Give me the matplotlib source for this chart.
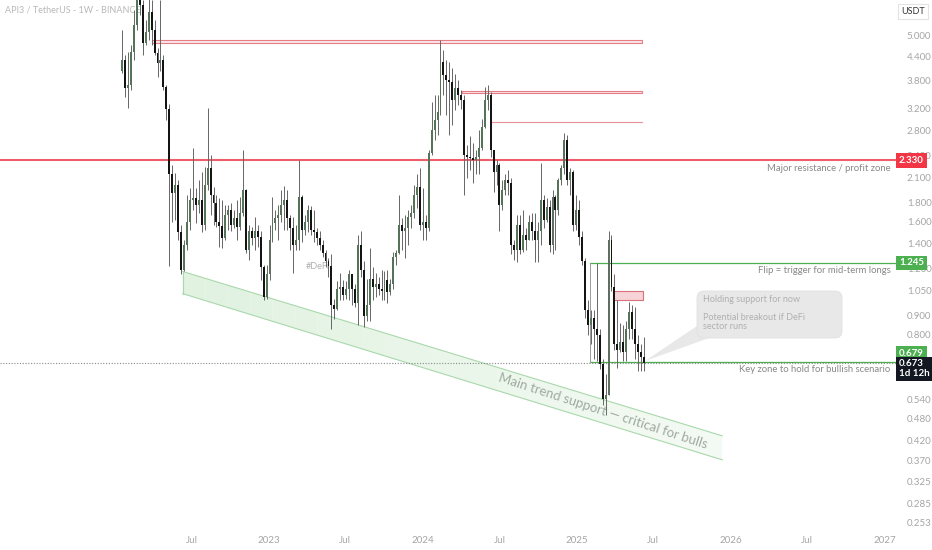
import numpy as np
import pandas as pd
import matplotlib
matplotlib.use('Agg')
import matplotlib.pyplot as plt
import matplotlib.dates as mdates
from matplotlib.patches import Polygon, Rectangle, FancyBboxPatch
from matplotlib.ticker import NullLocator

plt.rcParams['font.family'] = ['Lato', 'DejaVu Sans']

# weekly candles, API3/USDT
first_week = '2022-01-17'
first_open = 4.03
closes = [
    4.31, 3.63, 3.70, 4.53, 5.35, 6.63, 6.04, 4.79, 5.12, 5.79,
    5.19, 4.50, 4.24, 4.31, 3.66, 3.20, 2.14, 1.91, 2.01, 1.50,
    1.19, 1.39, 1.60, 1.83, 1.85, 1.77, 1.83, 1.57, 2.01, 2.22,
    1.89, 1.80, 1.60, 1.56, 1.45, 1.67, 1.72, 1.57, 1.64, 1.55,
    1.69, 1.94, 1.35, 1.51, 1.45, 1.51, 1.46, 1.21, 1.01, 1.16,
    1.43, 1.59, 1.64, 1.67, 1.77, 1.83, 1.64, 1.54, 1.39, 1.43,
    1.86, 1.52, 1.60, 1.72, 1.52, 1.50, 1.45, 1.39, 1.32, 1.26,
    1.22, 0.96, 0.94, 1.06, 1.07, 1.02, 1.06, 1.16, 1.06, 0.97,
    1.39, 1.19, 0.90, 0.96, 1.13, 1.07, 1.09, 1.06, 1.05, 1.12,
    1.04, 1.09, 1.29, 1.32, 1.57, 1.51, 1.54, 1.65, 1.69, 1.89,
    1.98, 1.57, 1.60, 1.54, 2.44, 2.81, 2.99, 3.14, 4.26, 3.94,
    3.82, 3.78, 3.38, 3.63, 3.48, 3.38, 2.41, 2.38, 2.37, 2.34,
    2.38, 2.52, 2.86, 3.38, 3.48, 2.49, 2.17, 2.27, 1.77, 1.94,
    2.07, 2.03, 1.39, 1.35, 1.57, 1.35, 1.48, 1.43, 1.60, 1.51,
    1.43, 1.51, 1.83, 1.62, 1.75, 1.39, 1.86, 1.72, 2.07, 2.22,
    2.64, 2.07, 2.17, 1.57, 1.72, 1.46, 1.26, 0.93, 0.85, 0.89,
    0.83, 0.80, 0.67, 0.54, 0.555, 1.43, 1.07, 0.755, 0.73, 0.765,
    0.72, 0.83, 0.92, 0.83, 0.755, 0.72, 0.70, 0.673]
highs = [
    5.19, 4.45, 4.53, 4.73, 5.86, 7.97, 8.47, 6.23, 5.51, 6.43,
    6.23, 5.51, 4.64, 6.23, 4.45, 3.70, 3.30, 2.27, 2.16, 2.07,
    1.57, 1.43, 1.89, 1.97, 2.52, 1.97, 2.07, 2.17, 2.24, 3.21,
    2.41, 1.98, 1.89, 1.85, 1.83, 1.77, 1.77, 1.80, 1.72, 1.83,
    1.86, 2.49, 1.96, 1.57, 1.55, 1.65, 1.57, 1.51, 1.23, 1.23,
    1.57, 1.86, 1.72, 1.77, 1.94, 1.99, 1.94, 1.67, 1.65, 1.57,
    2.34, 1.89, 1.67, 1.77, 1.76, 1.72, 1.54, 1.51, 1.43, 1.35,
    1.28, 1.31, 1.00, 1.11, 1.17, 1.12, 1.11, 1.19, 1.15, 1.09,
    1.48, 1.51, 1.26, 1.13, 1.36, 1.21, 1.17, 1.14, 1.19, 1.18,
    1.19, 1.13, 1.33, 1.35, 1.89, 1.64, 1.67, 1.72, 1.77, 2.01,
    2.14, 2.22, 1.97, 1.67, 2.49, 3.34, 3.48, 3.48, 4.88, 4.58,
    4.31, 4.26, 4.10, 3.97, 3.82, 3.59, 3.48, 2.56, 2.71, 2.60,
    2.49, 2.81, 3.01, 3.66, 3.70, 3.55, 2.49, 2.34, 2.30, 2.07,
    2.14, 2.20, 2.09, 1.43, 1.67, 1.67, 1.72, 1.54, 1.67, 1.69,
    1.69, 1.60, 2.30, 1.89, 1.85, 1.83, 1.94, 1.89, 2.09, 2.27,
    2.76, 2.73, 2.22, 2.20, 1.89, 1.83, 1.51, 1.28, 0.99, 0.93,
    0.93, 1.245, 0.83, 0.69, 0.63, 1.51, 1.48, 1.16, 0.99, 0.86,
    0.85, 0.87, 0.98, 0.96, 0.95, 0.80, 0.755, 0.79]
lows = [
    3.98, 3.44, 3.21, 3.59, 4.31, 5.19, 5.69, 4.45, 4.73, 4.88,
    4.73, 4.45, 3.89, 4.03, 3.59, 2.99, 1.22, 1.60, 1.62, 1.43,
    1.16, 1.18, 1.35, 1.52, 1.72, 1.59, 1.69, 1.50, 1.52, 1.94,
    1.67, 1.57, 1.55, 1.37, 1.36, 1.43, 1.52, 1.51, 1.54, 1.43,
    1.52, 1.66, 1.32, 1.27, 1.39, 1.35, 1.37, 1.12, 0.99, 1.00,
    1.12, 1.41, 1.52, 1.43, 1.60, 1.52, 1.52, 1.35, 1.17, 1.35,
    1.35, 1.41, 1.48, 1.50, 1.48, 1.41, 1.39, 1.35, 1.29, 1.21,
    1.14, 0.83, 0.88, 0.93, 0.99, 0.99, 1.00, 0.99, 0.96, 0.95,
    0.85, 1.14, 0.84, 0.87, 0.87, 0.99, 1.01, 1.02, 0.99, 0.99,
    0.97, 1.02, 1.06, 1.23, 1.31, 1.35, 1.28, 1.39, 1.54, 1.64,
    1.74, 1.52, 1.43, 1.43, 1.51, 2.41, 2.64, 2.73, 3.08, 3.48,
    3.08, 2.73, 2.90, 3.18, 3.28, 3.20, 1.89, 2.09, 2.20, 2.03,
    2.14, 2.14, 2.49, 2.85, 3.18, 2.38, 1.92, 2.01, 1.51, 1.72,
    1.89, 1.89, 1.31, 1.27, 1.25, 1.31, 1.33, 1.35, 1.43, 1.43,
    1.25, 1.25, 1.39, 1.54, 1.60, 1.33, 1.31, 1.35, 1.67, 2.01,
    2.14, 2.01, 1.89, 1.51, 1.52, 1.39, 1.23, 0.89, 0.80, 0.755,
    0.69, 0.68, 0.65, 0.52, 0.49, 0.57, 1.05, 0.73, 0.655, 0.72,
    0.68, 0.68, 0.78, 0.78, 0.69, 0.64, 0.64, 0.64]

price_ticks = [5.0, 4.4, 3.8, 3.2, 2.8, 2.4, 2.1, 1.8, 1.6, 1.4, 1.2, 1.05,
               0.9, 0.8, 0.62, 0.54, 0.48, 0.42, 0.37, 0.325, 0.285, 0.253]
time_ticks = ['2022-07-01', '2023-01-01', '2023-07-01', '2024-01-01', '2024-07-01',
              '2025-01-01', '2025-07-01', '2026-01-01', '2026-07-01', '2027-01-01']
time_labels = ['Jul', '2023', 'Jul', '2024', 'Jul', '2025', 'Jul', '2026', 'Jul', '2027']

# drawings
last_price = 0.673
major_res = 2.330
flip_level = 1.245
key_level = 0.679
zones_start = ['2022-03-29', '2024-04-03']
zones_low = [4.80, 3.53]
zones_high = [4.88, 3.575]
thin_res = 2.95
thin_res_start = '2024-06-08'
zones_end = '2025-06-04'
range_start = '2025-02-01'
small_box = ['2025-03-28', '2025-06-07']
small_box_prices = [0.99, 1.05]
chan_dates = ['2022-06-10', '2025-12-12']
chan_top = [1.18, 0.431]
chan_bot = [1.03, 0.372]

W, H = 932, 550
fig = plt.figure(figsize=(W / 100, H / 100), dpi=100)
ax = fig.add_axes([0, 22 / H, 897 / W, 528 / H])
ax.set_yscale('log')
ax.set_ylim(0.245, 6.23)
ax.set_xlim(mdates.date2num(pd.Timestamp('2021-04-02')), mdates.date2num(pd.Timestamp('2027-01-31')))

d = lambda s: mdates.date2num(pd.Timestamp(s))

# candles
dates = pd.date_range(first_week, periods=len(closes), freq='7D')
x = mdates.date2num(dates)
c = np.array(closes)
o = np.r_[first_open, c[:-1]]
hi = np.maximum(np.array(highs), np.maximum(o, c))
lo = np.minimum(np.array(lows), np.minimum(o, c))
up = c >= o
ax.vlines(x, lo, hi, color='#666666', lw=0.7, zorder=4)
ax.bar(x[up], (c - o)[up], bottom=o[up], width=4.6, color='#557359', zorder=5)
ax.bar(x[~up], (o - c)[~up], bottom=c[~up], width=4.6, color='#141414', zorder=5)

# channel (fill fades towards the right)
cx = [d(s) for s in chan_dates]
steps = np.linspace(0, 1, 25)
for a, b in zip(steps[:-1], steps[1:]):
    xa, xb = cx[0] + a * (cx[1] - cx[0]), cx[0] + b * (cx[1] - cx[0])
    ta, tb = chan_top[0] * (chan_top[1] / chan_top[0]) ** a, chan_top[0] * (chan_top[1] / chan_top[0]) ** b
    ba, bb = chan_bot[0] * (chan_bot[1] / chan_bot[0]) ** a, chan_bot[0] * (chan_bot[1] / chan_bot[0]) ** b
    ax.add_patch(Polygon([(xa, ta), (xb, tb), (xb, bb), (xa, ba)], closed=True,
                         fc='#dcf0dc', ec='none', alpha=0.85 - 0.55 * a, zorder=1))
ax.plot(cx, chan_top, color='#a9d8ab', lw=0.8, zorder=2)
ax.plot(cx, chan_bot, color='#a9d8ab', lw=0.8, zorder=2)
ax.plot([cx[0], cx[0]], [chan_top[0], chan_bot[0]], color='#a9d8ab', lw=0.8, zorder=2)
ax.text(d('2025-03-04'), 0.50, 'Main trend support \u2014 critical for bulls', rotation=-18,
        rotation_mode='anchor', ha='center', va='center', fontsize=9.5, color='#a0aaa0', zorder=3)

# resistance zones
for s, lo_, hi_ in zip(zones_start, zones_low, zones_high):
    ax.add_patch(Rectangle((d(s), lo_), d(zones_end) - d(s), hi_ - lo_, fc='#fbe6e8', ec='#e57d86', lw=0.8, zorder=2))
ax.plot([d(thin_res_start), d(zones_end)], [thin_res, thin_res], color='#ec8c94', lw=0.8, zorder=2)
ax.axhline(major_res, color='#ee5f6b', lw=1.5, zorder=3)

# flip / key range
ax.plot([d(range_start), ax.get_xlim()[1]], [flip_level, flip_level], color='#4caf50', lw=0.9, zorder=3)
ax.plot([d(range_start), ax.get_xlim()[1]], [key_level, key_level], color='#4caf50', lw=0.9, zorder=3)
ax.plot([d(range_start), d(range_start)], [key_level, flip_level], color='#9a9a9a', lw=0.7, zorder=3)
ax.add_patch(Rectangle((d(small_box[0]), small_box_prices[0]), d(small_box[1]) - d(small_box[0]),
                       small_box_prices[1] - small_box_prices[0], fc='#f6d3d7', ec='#d9727c', lw=0.8, zorder=3))
ax.axhline(last_price, color='#8a8a8a', lw=0.8, ls=(0, (1, 1.5)), zorder=2)

ax.text(d('2023-03-30'), 1.22, '#DeFi', fontsize=6.5, color='#b0b0b0', va='center', zorder=1)

# level notes
blend = ax.get_yaxis_transform()
for txt, lvl in [('Major resistance / profit zone', major_res),
                 ('Flip = trigger for mid-term longs', flip_level),
                 ('Key zone to hold for bullish scenario', key_level)]:
    ax.annotate(txt, xy=(0.9925, lvl), xycoords=blend, xytext=(0, -2.5), textcoords='offset points',
                ha='right', va='top', fontsize=6.8, color='#888888', zorder=7)

# callout
ax.add_patch(Polygon([(697 / 897, 1 - 326 / 528), (709 / 897, 1 - 338 / 528), (645 / 897, 1 - 361 / 528)],
                     closed=True, transform=ax.transAxes, fc='#e8e8e8', ec='none', zorder=6))
ax.add_patch(FancyBboxPatch((697 / 897, 1 - 338 / 528), 145 / 897, 47 / 528,
                            boxstyle='round,pad=0,rounding_size=0.008', mutation_aspect=897 / 528,
                            transform=ax.transAxes, fc='#e8e8e8', ec='#e0e0e0', lw=0.6, zorder=6))
ax.text(703 / 897, 1 - 300 / 528, 'Holding support for now', transform=ax.transAxes,
        fontsize=6.5, color='#b0b0b0', va='center', zorder=7)
ax.text(703 / 897, 1 - 313 / 528, 'Potential breakout if DeFi\nsector runs', transform=ax.transAxes,
        fontsize=6.5, color='#b0b0b0', va='top', linespacing=1.0, zorder=7)

ax.text(5 / 897, 1 - 10 / 528, 'API3 / TetherUS - 1W - BINANCE', transform=ax.transAxes,
        fontsize=6.5, color='#b8b8b8', va='center', zorder=1)

# axes
for sp in ax.spines.values():
    sp.set_visible(False)
ax.yaxis.tick_right()
ax.set_yticks(price_ticks)
ax.set_yticklabels(['%.3f' % v for v in price_ticks])
ax.yaxis.set_minor_locator(NullLocator())
ax.tick_params(axis='y', length=0, pad=7, labelsize=7, labelcolor='#a5a5a5')
ax.set_xticks([d(s) for s in time_ticks])
ax.set_xticklabels(time_labels)
ax.xaxis.set_minor_locator(NullLocator())
ax.tick_params(axis='x', length=0, pad=6, labelsize=7, labelcolor='#a5a5a5')

def price_tag(val, text, face, dy=0):
    ax.annotate(text, xy=(1, val), xycoords=blend, xytext=(1.5, dy), textcoords='offset points',
                ha='left', va='center', fontsize=7, color='white', fontweight='bold', linespacing=1.1,
                bbox=dict(boxstyle='square,pad=0.28', fc=face, ec='none'), annotation_clip=False, zorder=10)

price_tag(major_res, '2.330', '#f23645')
price_tag(flip_level, '1.245', '#4caf50')
price_tag(key_level, '0.679', '#4caf50', dy=6)
price_tag(last_price, '0.673\n1d 12h', '#131722', dy=-4)

fig.text(913 / W, 1 - 11.5 / H, 'USDT', ha='center', va='center', fontsize=6.5, color='#333333',
         bbox=dict(boxstyle='square,pad=0.35', fc='white', ec='#e3e3e3', lw=0.8))

fig.savefig('out.png', dpi=100, facecolor='white')
